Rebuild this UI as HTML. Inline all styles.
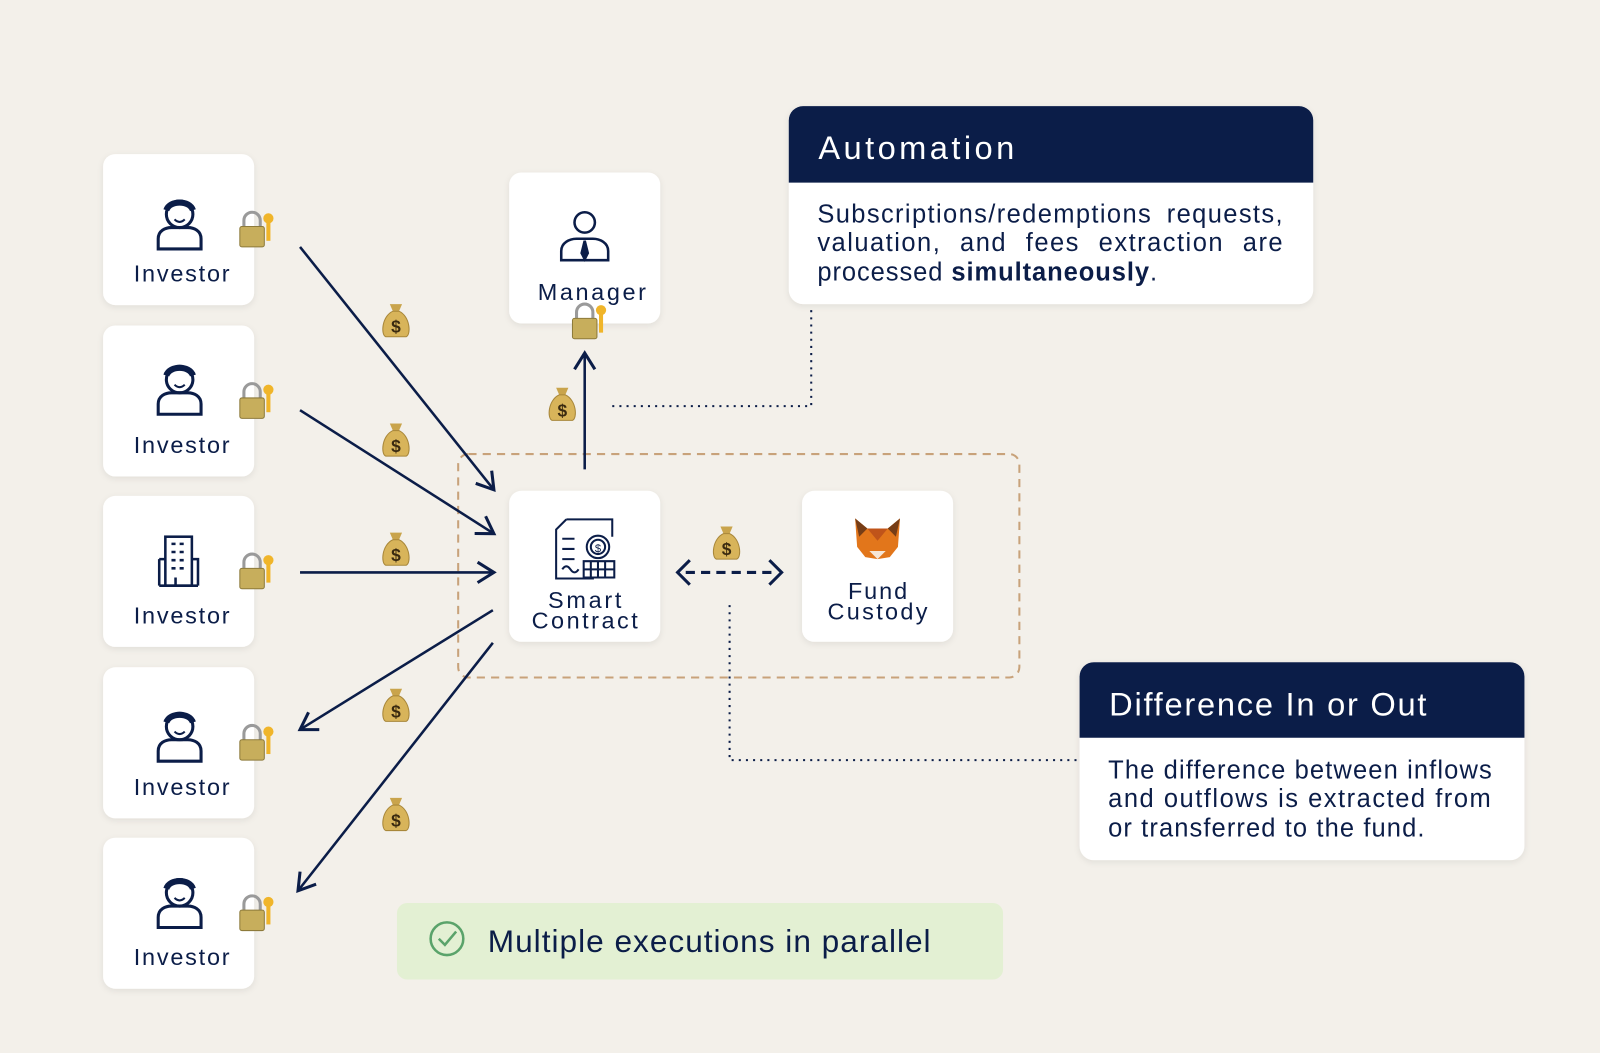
<!DOCTYPE html>
<html><head><meta charset="utf-8"><style>
html,body{margin:0;padding:0;background:#f3f0ea;}
svg{display:block;font-family:"Liberation Sans",sans-serif;}
</style></head><body>
<svg width="1600" height="1053" viewBox="0 0 1568 1032" xmlns="http://www.w3.org/2000/svg">
<defs>
<filter id="sh" x="-20%" y="-20%" width="140%" height="140%"><feDropShadow dx="0" dy="2" stdDeviation="3" flood-color="#000" flood-opacity="0.08"/></filter>
<marker id="ah2" viewBox="0 0 24 24" refX="20" refY="12" markerWidth="24" markerHeight="24" markerUnits="userSpaceOnUse" orient="auto"><path d="M4,2 L20,12 L4,22" fill="none" stroke="#0b1d48" stroke-width="3"/></marker>
<g id="bag">
<path d="M-6,-16 L6,-16 L3,-9 L-3,-9 Z" fill="#c9a44c"/>
<path d="M-3,-9 C-14,-4 -15,14 -10,16 L10,16 C15,14 14,-4 3,-9 Z" fill="#d8b45a" stroke="#a8873a" stroke-width="1"/>
<text x="0" y="12" font-size="17" text-anchor="middle" fill="#3a2a10" font-weight="bold">$</text>
</g>
<g id="lock">
<path d="M-12,-4 L-12,-10 A8,8 0 0 1 4,-10 L4,-4" fill="none" stroke="#9a9a9a" stroke-width="3"/>
<rect x="-16" y="-4" width="24" height="20" rx="2" fill="#c7ae5c" stroke="#8d7a3a"/>
<circle cx="12" cy="-12" r="5" fill="#f0b52a"/>
<rect x="10" y="-8" width="4" height="18" fill="#f0b52a"/>
</g>
<g id="person" fill="none" stroke="#0b1d48" stroke-width="3">
<circle cx="0" cy="-8" r="13"/>
<path d="M-21,26 L-21,16 C-21,8 -14,5 -8,5 L8,5 C14,5 21,8 21,16 L21,26 Z"/>
<path d="M-13,-12 C-10,-22 10,-22 13,-12" stroke-width="6"/>
<path d="M-5,-3 Q0,2 5,-3" stroke-width="2"/>
</g>
</defs>

<rect width="1568" height="1032" fill="#f3f0ea"/>

<rect x="449" y="445" width="550" height="219" rx="10" fill="none" stroke="#c8a27a" stroke-width="2" stroke-dasharray="8,6"/>

<g font-size="23" fill="#0b1d48" text-anchor="middle">
<g filter="url(#sh)" fill="#fff">
<rect x="101" y="151" width="148" height="148" rx="12"/>
<rect x="101" y="319" width="148" height="148" rx="12"/>
<rect x="101" y="486" width="148" height="148" rx="12"/>
<rect x="101" y="654" width="148" height="148" rx="12"/>
<rect x="101" y="821" width="148" height="148" rx="12"/>
<rect x="499" y="169" width="148" height="148" rx="12"/>
<rect x="499" y="481" width="148" height="148" rx="12"/>
<rect x="786" y="481" width="148" height="148" rx="12"/>
</g>
<text x="178" y="276" textLength="94">Investor</text>
<text x="178" y="444" textLength="94">Investor</text>
<text x="178" y="611" textLength="94">Investor</text>
<text x="178" y="779" textLength="94">Investor</text>
<text x="178" y="946" textLength="94">Investor</text>
<text x="580" y="294" textLength="106">Manager</text>
<text x="573" y="596" textLength="72">Smart</text>
<text x="573" y="616" textLength="104">Contract</text>
<text x="860" y="587" textLength="58">Fund</text>
<text x="860" y="607" textLength="98">Custody</text>
</g>

<use href="#person" x="176" y="218"/>
<use href="#person" x="176" y="380"/>
<use href="#person" x="176" y="720"/>
<use href="#person" x="176" y="883"/>
<g fill="none" stroke="#0b1d48" stroke-width="2.5">
<rect x="162" y="526" width="26" height="48"/>
<path d="M156,574 L194,574 M156,548 L162,548 M156,548 L156,574 M188,548 L194,548 L194,574"/>
<path d="M168,533h4M176,533h4M168,541h4M176,541h4M168,549h4M176,549h4M168,557h4M176,557h4M172,566v8"/>
</g>
<g fill="none" stroke="#0b1d48" stroke-width="2.5">
<circle cx="573" cy="218" r="10"/>
<path d="M550,255 L550,246 C550,238 558,234 565,234 L581,234 C588,234 596,238 596,246 L596,255 Z"/>
<path d="M573,236 L570,248 L573,254 L576,248 Z" fill="#0b1d48"/>
</g>
<g fill="none" stroke="#0b1d48" stroke-width="2">
<path d="M555,509 L600,509 L600,526 M555,509 L545,519 L545,567 L582,567"/>
<path d="M551,528h12M551,538h12M551,548h12M551,558 q4,-6 8,0 q4,6 8,0"/>
<circle cx="586" cy="536" r="11"/><circle cx="586" cy="536" r="7"/>
<text x="586" y="541" font-size="11" fill="#0b1d48" stroke="none" text-anchor="middle">$</text>
<path d="M572,550h30v16h-30zM572,558h30M579,550v16M586,550v16M593,550v16"/>
</g>
<g>
<path d="M838,508 L850,518 L870,518 L882,508 L880,536 L872,546 L860,548 L848,546 L840,536 Z" fill="#e2761b"/>
<path d="M850,518 L860,530 L870,518 Z" fill="#c0541a"/>
<path d="M852,540 L860,548 L868,540 Z" fill="#f6e6d6"/>
<path d="M838,508 L850,518 L842,526 Z M882,508 L870,518 L878,526 Z" fill="#763d16"/>
</g>

<g stroke="#0b1d48" stroke-width="2.5" fill="none">
<line x1="294" y1="242" x2="484" y2="480" marker-end="url(#ah2)"/>
<line x1="294" y1="402" x2="484" y2="523" marker-end="url(#ah2)"/>
<line x1="294" y1="561" x2="484" y2="561" marker-end="url(#ah2)"/>
<line x1="483" y1="598" x2="294" y2="715" marker-end="url(#ah2)"/>
<line x1="483" y1="630" x2="292" y2="873" marker-end="url(#ah2)"/>
<line x1="573" y1="460" x2="573" y2="346" marker-end="url(#ah2)"/>
<line x1="672" y1="561" x2="758" y2="561" stroke-dasharray="9,6" stroke-width="3"/>
<path d="M676,549 L664,561 L676,573 M754,549 L766,561 L754,573" stroke-width="3"/>
</g>
<g stroke="#0b1d48" stroke-width="2" fill="none" stroke-dasharray="2,5">
<path d="M600,398 L795,398 L795,300"/>
<path d="M715,593 L715,745 L1055,745"/>
</g>

<use href="#bag" x="388" y="314"/>
<use href="#bag" x="388" y="431"/>
<use href="#bag" x="388" y="538"/>
<use href="#bag" x="388" y="691"/>
<use href="#bag" x="388" y="798"/>
<use href="#bag" x="551" y="396"/>
<use href="#bag" x="712" y="532"/>
<use href="#lock" x="251" y="226"/>
<use href="#lock" x="251" y="394"/>
<use href="#lock" x="251" y="561"/>
<use href="#lock" x="251" y="729"/>
<use href="#lock" x="251" y="896"/>
<use href="#lock" x="577" y="316"/>

<g filter="url(#sh)">
<rect x="773" y="104" width="514" height="194" rx="14" fill="#fff"/>
</g>
<path d="M787,104 L1273,104 A14,14 0 0 1 1287,118 L1287,179 L773,179 L773,118 A14,14 0 0 1 787,104 Z" fill="#0b1d48"/>
<text x="802" y="156" font-size="32" fill="#fff" textLength="192">Automation</text>
<g font-size="25" fill="#0b1d48">
<text x="801" y="218" textLength="456" lengthAdjust="spacing" word-spacing="6">Subscriptions/redemptions requests,</text>
<text x="801" y="246" textLength="456" lengthAdjust="spacing" word-spacing="10">valuation, and fees extraction are</text>
<text x="801" y="275" textLength="333">processed <tspan font-weight="bold">simultaneously</tspan>.</text>
</g>

<g filter="url(#sh)">
<rect x="1058" y="649" width="436" height="194" rx="14" fill="#fff"/>
</g>
<path d="M1072,649 L1480,649 A14,14 0 0 1 1494,663 L1494,723 L1058,723 L1058,663 A14,14 0 0 1 1072,649 Z" fill="#0b1d48"/>
<text x="1087" y="701" font-size="32" fill="#fff" textLength="311">Difference In or Out</text>
<g font-size="25" fill="#0b1d48">
<text x="1086" y="763" textLength="376">The difference between inflows</text>
<text x="1086" y="791" textLength="375">and outflows is extracted from</text>
<text x="1086" y="820" textLength="310">or transferred to the fund.</text>
</g>

<rect x="389" y="885" width="594" height="75" rx="10" fill="#e3f0d3"/>
<circle cx="438" cy="920" r="16" fill="none" stroke="#5aa36a" stroke-width="2.5"/>
<path d="M430,920 L436,926 L447,913" fill="none" stroke="#5aa36a" stroke-width="2.5"/>
<text x="478" y="933" font-size="31" fill="#0b1d48" textLength="434">Multiple executions in parallel</text>
</svg>
</body></html>
